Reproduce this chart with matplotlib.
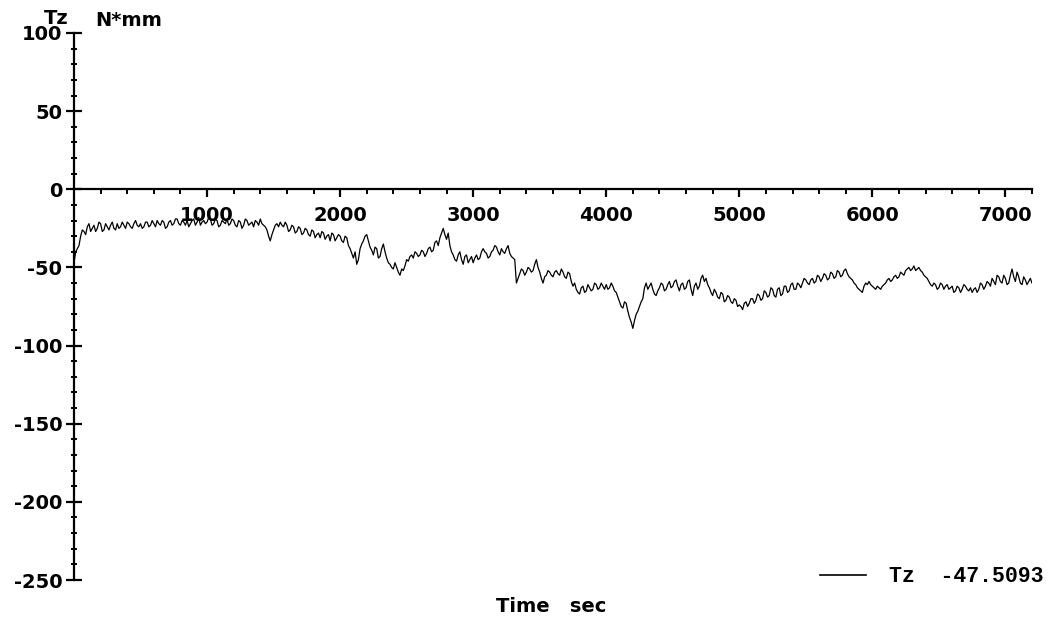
import numpy as np
import matplotlib
matplotlib.use("Agg")
import matplotlib.pyplot as plt
from matplotlib.lines import Line2D
from matplotlib.ticker import MultipleLocator, FixedLocator

plt.rcParams['axes.unicode_minus'] = False

# Torque Tz: readings on the 25 s grid ...
tz_values = [
    # 0 - 475
    -47, -38, -30, -27, -24, -27, -23, -25, -22, -26, -24, -23, -25, -22, -24, -23, -21, -24, -22, -23,
    # 500 - 975
    -22, -24, -21, -23, -22, -20, -23, -21, -24, -20, -22, -19, -23, -21, -20, -22, -19, -21, -23, -20,
    # 1000 - 1475
    -21, -19, -22, -20, -23, -21, -19, -22, -20, -24, -21, -23, -20, -22, -24, -21, -19, -23, -26, -33,
    # 1500 - 1975
    -26, -22, -21, -24, -23, -26, -24, -27, -25, -28, -26, -30, -27, -29, -31, -28, -30, -33, -29, -31,
    # 2000 - 2475
    -30, -34, -31, -38, -44, -48, -38, -33, -29, -37, -42, -38, -43, -35, -44, -48, -51, -50, -55, -52,
    # 2500 - 2975
    -45, -43, -44, -41, -42, -40, -41, -37, -39, -33, -31, -25, -32, -36, -42, -46, -40, -48, -42, -45,
    # 3000 - 3475
    -47, -42, -44, -38, -41, -43, -39, -37, -42, -40, -38, -41, -44, -60, -54, -52, -53, -51, -52, -45,
    # 3500 - 3975
    -53, -60, -55, -53, -56, -52, -55, -53, -57, -54, -62, -64, -67, -62, -65, -63, -64, -61, -63, -62,
    # 4000 - 4475
    -61, -63, -62, -66, -72, -76, -73, -82, -89, -80, -75, -70, -60, -62, -64, -68, -63, -61, -64, -59,
    # 4500 - 4975
    -62, -58, -65, -60, -63, -58, -68, -60, -62, -55, -57, -63, -68, -66, -70, -67, -71, -69, -73, -71,
    # 5000 - 5475
    -74, -77, -72, -73, -70, -71, -68, -70, -66, -68, -64, -69, -63, -67, -62, -65, -60, -64, -61, -60,
    # 5500 - 5975
    -58, -61, -57, -59, -56, -57, -55, -57, -54, -56, -53, -55, -51, -56, -58, -61, -64, -66, -60, -59,
    # 6000 - 6475
    -62, -64, -63, -62, -60, -57, -58, -55, -56, -54, -52, -50, -51, -52, -50, -53, -56, -59, -62, -61,
    # 6500 - 6975
    -63, -61, -62, -64, -62, -65, -63, -64, -62, -65, -66, -63, -64, -61, -62, -60, -57, -61, -56, -60,
    # 7000 - 7200
    -57, -60, -51, -59, -56, -61, -58, -59, -60,
]

# ... and the readings taken half-way between them (12.5 s, 37.5 s, ...)
tz_mid = [
    -40, -36, -26, -29, -22, -25, -27, -21, -27, -22, -26, -21, -26, -25, -21, -25, -22, -25, -20, -24,
    -25, -21, -24, -20, -24, -22, -20, -25, -21, -23, -19, -22, -20, -23, -24, -20, -23, -18, -21, -22,
    -18, -23, -19, -24, -20, -22, -23, -19, -23, -20, -25, -19, -23, -21, -20, -23, -22, -24, -30, -29,
    -23, -24, -23, -21, -27, -23, -28, -24, -29, -25, -29, -26, -31, -28, -27, -32, -29, -28, -33, -29,
    -33, -30, -36, -41, -40, -45, -35, -30, -33, -39, -37, -44, -38, -40, -47, -50, -47, -53, -51, -49,
    -46, -42, -40, -43, -39, -43, -38, -40, -34, -36, -28, -29, -28, -40, -45, -42, -45, -43, -47, -43,
    -44, -45, -40, -40, -44, -40, -36, -40, -38, -41, -36, -43, -45, -57, -51, -55, -50, -53, -48, -50,
    -57, -56, -52, -55, -53, -54, -51, -56, -53, -59, -60, -66, -63, -66, -61, -65, -60, -64, -60, -64,
    -64, -60, -65, -69, -75, -72, -78, -85, -84, -78, -72, -63, -64, -60, -67, -65, -60, -65, -61, -63,
    -59, -62, -61, -64, -59, -64, -62, -64, -57, -59, -61, -66, -64, -69, -66, -72, -68, -72, -70, -75,
    -75, -73, -75, -70, -73, -67, -71, -65, -69, -63, -68, -64, -68, -62, -66, -61, -64, -60, -63, -57,
    -60, -58, -60, -55, -59, -54, -58, -53, -57, -52, -56, -52, -54, -57, -60, -63, -65, -62, -61, -61,
    -63, -62, -64, -61, -58, -59, -56, -57, -53, -55, -51, -52, -49, -51, -52, -55, -57, -61, -60, -64,
    -60, -64, -61, -63, -66, -62, -66, -61, -64, -63, -64, -66, -60, -64, -59, -62, -59, -55, -59, -55,
    -61, -55, -56, -53, -60, -56, -61, -57,
]

sample_step = 12.5
tz_series = np.empty(len(tz_values) + len(tz_mid))
tz_series[0::2] = tz_values
tz_series[1::2] = tz_mid
time_sec = np.arange(len(tz_series)) * sample_step

x_major = [1000, 2000, 3000, 4000, 5000, 6000, 7000]
y_major = [100, 50, 0, -50, -100, -150, -200, -250]
legend_label = "Tz  -47.5093"

W, H = 1052, 623
fig = plt.figure(figsize=(W / 100, H / 100), dpi=100)
ax = fig.add_axes([74 / W, 1 - 580 / H, 958 / W, 547 / H])

ax.plot(time_sec, tz_series, color='black', linewidth=0.9)

ax.set_xlim(0, 7200)
ax.set_ylim(-250, 100)

for side in ('top', 'right'):
    ax.spines[side].set_visible(False)
ax.spines['bottom'].set_position(('data', 0))
ax.spines['left'].set_position(('data', 0))
for side in ('bottom', 'left'):
    ax.spines[side].set_linewidth(1.6)
    ax.spines[side].set_color('black')

ax.xaxis.set_major_locator(FixedLocator(x_major))
ax.xaxis.set_minor_locator(MultipleLocator(200))
ax.yaxis.set_major_locator(FixedLocator(y_major))
ax.yaxis.set_minor_locator(MultipleLocator(10))

tick_font = dict(family='DejaVu Sans', weight='bold', size=14)
ax.set_xticklabels([str(v) for v in x_major], **tick_font)
ax.set_yticklabels([str(v) for v in y_major], **tick_font)

ax.tick_params(axis='x', which='major', direction='out', length=6, width=1.6, pad=6)
ax.tick_params(axis='x', which='minor', direction='out', length=3.6, width=1.4)
ax.tick_params(axis='y', which='major', direction='inout', length=11, width=1.6, pad=3)
ax.tick_params(axis='y', which='minor', direction='inout', length=4.5, width=1.4)

# axis captions
fig.text(56 / W, 1 - 19 / H, "Tz", ha='center', va='center', **tick_font)
fig.text(129 / W, 1 - 21 / H, "N*mm", ha='center', va='center', **tick_font)
fig.text(551 / W, 1 - 606 / H, "Time   sec", ha='center', va='center', **tick_font)

ax.legend([Line2D([], [], color='black', linewidth=1.2)], [legend_label],
          loc='center left', bbox_to_anchor=(820 / W, 1 - 577 / H),
          bbox_transform=fig.transFigure, frameon=False,
          borderpad=0, borderaxespad=0, handlelength=2.15, handletextpad=1.05,
          prop=dict(family='Liberation Mono', weight='bold', size=15.5))

fig.savefig("out.png", dpi=100)
